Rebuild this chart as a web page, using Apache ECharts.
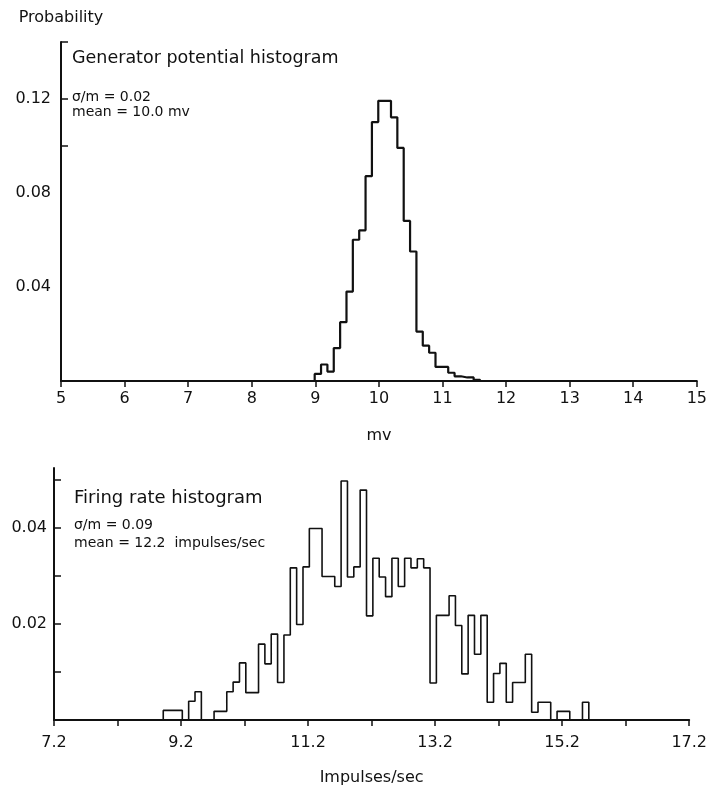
<!DOCTYPE html>
<html>
<head>
<meta charset="utf-8">
<script src="https://cdn.jsdelivr.net/npm/echarts@6/dist/echarts.min.js"></script>
<style>
  html, body { margin: 0; padding: 0; background: #fff; }
  #chart { width: 710px; height: 790px; }
</style>
</head>
<body>
<div id="chart"></div>
<script>
// Generator potential histogram (mv), bins 0.1 mv wide
const mvBinStart = 8.99
const mvBinWidth = 0.1
const mvProb = [
  0.003, 0.007, 0.004, 0.014, 0.025, 0.038, 0.060, 0.064, 0.087, 0.110,
  0.119, 0.119, 0.112, 0.099, 0.068, 0.055, 0.021, 0.015, 0.012, 0.006,
  0.006, 0.0035, 0.002, 0.0015, 0.0015, 0.0005
]
const probTicks = [0.10, 0.12, 0.144]
const probLabels = [0.04, 0.08, 0.12]

// Firing rate histogram (impulses/sec), bins 0.1 wide
const rateBinStart = 8.92
const rateBinWidth = 0.1
const rateProb = [
  0.0020, 0.0020, 0.0020, 0, 0.0039, 0.0059, 0, 0, 0.0018, 0.0018,
  0.0059, 0.0079, 0.0119, 0.0057, 0.0057, 0.0158, 0.0117, 0.0179, 0.0078, 0.0177,
  0.0317, 0.0199, 0.0319, 0.0399, 0.0399, 0.0299, 0.0299, 0.0278, 0.0498, 0.0298,
  0.0319, 0.0479, 0.0217, 0.0337, 0.0298, 0.0257, 0.0337, 0.0278, 0.0337, 0.0317,
  0.0336, 0.0317, 0.0077, 0.0218, 0.0218, 0.0259, 0.0197, 0.0096, 0.0218, 0.0137,
  0.0218, 0.0037, 0.0097, 0.0118, 0.0037, 0.0078, 0.0078, 0.0137, 0.0016, 0.0037,
  0.0037, 0, 0.0018, 0.0018, 0, 0, 0.0037
]
const rateXLabels = [7.2, 9.2, 11.2, 13.2, 15.2, 17.2]
const rateYTicks = [0.01, 0.02, 0.03, 0.04, 0.05]
const rateYLabels = [0.02, 0.04]

const FONT = '"DejaVu Sans", "Noto Sans", sans-serif'
const INK = '#111'

// outline of a histogram: one point per bin edge, drawn as a step line
function stepPoints(start, width, values) {
  const pts = [[start, 0]]
  values.forEach((v, i) => pts.push([+(start + i * width).toFixed(3), v]))
  pts.push([+(start + values.length * width).toFixed(3), 0])
  return pts
}

const axisLine = { show: true, onZero: false, lineStyle: { color: INK, width: 2 } }
const labelStyle = { color: INK, fontSize: 16, fontFamily: FONT }

const chart = echarts.init(document.getElementById('chart'))

chart.setOption({
  backgroundColor: '#fff',
  animation: false,
  grid: [
    { left: 61, right: 11, top: 42, bottom: 409 },
    { left: 54, right: 15, top: 468, bottom: 70 }
  ],
  xAxis: [
    {
      gridIndex: 0, type: 'value', min: 5, max: 15, interval: 1,
      name: 'mv', nameLocation: 'middle', nameGap: 47,
      nameTextStyle: labelStyle,
      axisLine: axisLine,
      axisTick: { show: true, inside: false, length: 6, lineStyle: { color: INK, width: 1.5 } },
      axisLabel: { ...labelStyle, margin: 10 },
      splitLine: { show: false }
    },
    {
      gridIndex: 1, type: 'value', min: 7.2, max: 17.2, interval: 1,
      name: 'Impulses/sec', nameLocation: 'middle', nameGap: 50,
      nameTextStyle: labelStyle,
      axisLine: axisLine,
      axisTick: { show: true, inside: false, length: 6, lineStyle: { color: INK, width: 1.5 } },
      axisLabel: { ...labelStyle, margin: 15, customValues: rateXLabels, formatter: (v) => v.toFixed(1) },
      splitLine: { show: false }
    }
  ],
  yAxis: [
    {
      gridIndex: 0, type: 'value', min: 0, max: 0.144,
      name: 'Probability', nameLocation: 'end', nameGap: 16,
      nameTextStyle: { ...labelStyle, align: 'center' },
      axisLine: axisLine,
      axisTick: { show: true, inside: true, length: 7, customValues: probTicks, lineStyle: { color: INK, width: 1.5 } },
      axisLabel: { ...labelStyle, margin: 10, customValues: probLabels, formatter: (v) => v.toFixed(2) },
      splitLine: { show: false }
    },
    {
      gridIndex: 1, type: 'value', min: 0, max: 0.0525,
      axisLine: axisLine,
      axisTick: { show: true, inside: true, length: 7, customValues: rateYTicks, lineStyle: { color: INK, width: 1.5 } },
      axisLabel: { ...labelStyle, margin: 7, customValues: rateYLabels, formatter: (v) => v.toFixed(2) },
      splitLine: { show: false }
    }
  ],
  graphic: [
    { type: 'text', left: 72, top: 49, style: { text: 'Generator potential histogram', font: '17.5px ' + FONT, fill: INK } },
    { type: 'text', left: 72, top: 90, style: { text: 'σ/m = 0.02', font: '14px ' + FONT, fill: INK } },
    { type: 'text', left: 72, top: 105, style: { text: 'mean = 10.0 mv', font: '14px ' + FONT, fill: INK } },
    { type: 'text', left: 74, top: 489, style: { text: 'Firing rate histogram', font: '18px ' + FONT, fill: INK } },
    { type: 'text', left: 74, top: 518, style: { text: 'σ/m = 0.09', font: '14px ' + FONT, fill: INK } },
    { type: 'text', left: 74, top: 536, style: { text: 'mean = 12.2  impulses/sec', font: '14px ' + FONT, fill: INK } }
  ],
  series: [
    {
      name: 'Generator potential', type: 'line', xAxisIndex: 0, yAxisIndex: 0,
      step: 'end', symbol: 'none', z: 3,
      lineStyle: { color: INK, width: 2.2 },
      data: stepPoints(mvBinStart, mvBinWidth, mvProb)
    },
    {
      name: 'Firing rate', type: 'line', xAxisIndex: 1, yAxisIndex: 1,
      step: 'end', symbol: 'none', z: 3,
      lineStyle: { color: INK, width: 1.6 },
      data: stepPoints(rateBinStart, rateBinWidth, rateProb)
    }
  ]
})
</script>
</body>
</html>
